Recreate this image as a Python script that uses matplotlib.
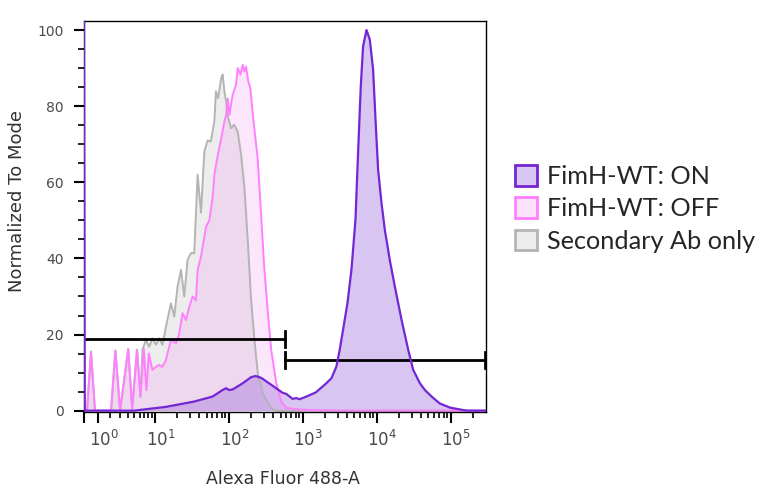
import numpy as np
import matplotlib
matplotlib.use('Agg')
import matplotlib.pyplot as plt
from matplotlib.patches import Patch
from matplotlib.transforms import ScaledTranslation

# histogram values: x = Alexa Fluor 488-A intensity, y = % of mode
on_x = [0, 0.05, 5, 14.0, 34, 60, 82, 92, 101, 113, 154, 200, 230, 275, 374, 532, 598,
        728, 817, 905, 1116, 1500, 1976, 2435, 2847, 3155, 3498, 4013, 4546, 5151,
        5588, 6080, 6529, 7263, 8049, 8926, 9621, 10432, 11600, 12858, 15031, 17571,
        21663, 26616, 31110, 38338, 44833, 55257, 70906, 97800, 165000, 300000]
on_y = [103, 0, 0, 1.0, 2.4, 3.7, 5.4, 5.9, 5.4, 5.6, 7.2, 8.8, 9.1, 8.6, 6.8, 4.7, 4.4,
        3.1, 3.3, 3.0, 3.7, 4.8, 6.8, 8.5, 11.6, 16, 21.2, 28.2, 37, 50.1,
        67.7, 85.2, 95.7, 100, 97.5, 89.6, 76.4, 63.3, 54.5, 47.5, 39.5, 32.6,
        23.8, 16, 10.7, 7.2, 5.4, 3.7, 1.9, 0.8, 0, 0]

off_x = [0, 0.206, 0.484, 0.77, 2.08, 2.51, 3.03, 4.08, 4.68, 5.53, 6.19, 6.92, 7.53,
         8.14, 9.15, 10.2, 11.3, 12.5, 14.0, 16.4, 19.2, 21.3, 23.6, 26.3, 29.1, 32.3,
         35.9, 37.8, 42, 49.2, 54.5, 60.5, 63.7, 70.6, 79, 87.1, 91.8, 96.5, 101.7,
         107, 112.7, 125, 131.7, 143.4, 154, 162.4, 171, 183, 195, 216, 246, 272,
         300, 336, 374, 437, 511, 598, 905, 1690, 3157, 300000]
off_y = [0, 0, 15.3, 0, 0, 15.8, 0, 16.2, 0.5, 16, 3.7, 16.2, 5.4,
         15, 10.7, 11.5, 12, 11.5, 13.3, 18.6, 17.7, 20.3, 25.6, 23.8, 27.3, 30,
         29, 37, 40.5, 48.4, 50, 56.3, 62, 67, 71.6, 76, 77.7, 82, 77.7,
         80.4, 83, 85.6, 90, 88.3, 90.9, 89.1, 90.4, 86.5, 84.8, 76, 66, 52,
         38, 26, 16, 7.3, 2.4, 0.7, 0.3, 0.1, 0, 0]

sec_x = [0, 0.206, 0.484, 0.77, 2.08, 2.51, 3.03, 4.08, 4.68, 5.53, 6.19, 6.62, 7.40,
         8.22, 9.15, 10.2, 11.3, 12.6, 14.0, 16.4, 18.2, 20.2, 22.5, 24.9, 27.6, 30.7,
         34, 37.8, 42, 46.6, 51.7, 57, 63.7, 66.8, 71.4, 79, 82.5, 87.1, 91.8, 96.5,
         107, 118, 131.7, 146.5, 162.4, 180, 200, 222, 246, 288, 336.6, 393.5, 485,
         300000]
sec_y = [0, 0, 15.6, 0, 0, 15.8, 0, 16.2, 0.5, 16, 3.7, 16, 18.6,
         16.8, 19, 17.3, 19, 17.3, 22, 28.2, 24.7, 32.6, 37, 30, 39.6, 41.4,
         41.4, 62, 52, 68.1, 71, 70.7, 76, 83.9, 82.1, 87.4, 88.3, 83.9, 81.2, 77.4,
         74.2, 75.1, 73.3, 67.2, 58.5, 44.9, 29, 18.6, 9.8, 4.6, 2, 0.2, 0,
         0]

# gates (x start, x end, height)
gate1 = (0, 566, 18.9)
gate2 = (566, 291000, 13.4)

major_ticks = [0, 1, 10, 100, 1000, 10000, 100000]
major_labels = ['', r'$10^{0}$', r'$10^{1}$', r'$10^{2}$', r'$10^{3}$', r'$10^{4}$', r'$10^{5}$']
minor_ticks = [m * 10**d for d in range(0, 6) for m in range(2, 10) if m * 10**d < 300000]

labels = ['FimH-WT: ON', 'FimH-WT: OFF', 'Secondary Ab only']
line_cols = ['#7326d3', '#ff80ff', '#b4b4b4']
fill_cols = ['#9a68dc', '#f29cf2', '#c4c4c4']
fill_alpha = [0.38, 0.25, 0.3]
patch_face = ['#d9c6f3', '#fbe2fb', '#ececec']

def fwd(x):
    return np.arcsinh(np.asarray(x) / 2.2) / np.log(10)

def inv(t):
    return 2.2 * np.sinh(np.asarray(t) * np.log(10))

fig = plt.figure(figsize=(7.62, 4.87), dpi=100)
ax = fig.add_axes([84/762, 1 - 412/487, 402/762, 391.5/487])
ax.set_xscale('function', functions=(fwd, inv))

series = [(sec_x, sec_y, 2), (off_x, off_y, 1), (on_x, on_y, 0)]
for xs, ys, i in series:
    ax.fill_between(xs, 0, ys, color=fill_cols[i], alpha=fill_alpha[i], lw=0)
for xs, ys, i in series:
    ax.plot(xs, ys, color=line_cols[i], lw=1.6 if i == 0 else 1.4,
            solid_joinstyle='round', zorder=3 if i == 0 else 2)

for g in (gate1, gate2):
    ax.plot([g[0], g[1]], [g[2], g[2]], color='black', lw=2.0)
    ax.plot([g[1], g[1]], [g[2] - 2.1, g[2] + 2.1], color='black', lw=2.0)
ax.plot([gate2[0], gate2[0]], [gate2[2] - 2.1, gate2[2] + 2.1], color='black', lw=2.0)

ax.set_xlim(0, 300000)
ax.set_ylim(-0.35, 102.5)
ax.set_xticks(major_ticks)
ax.set_xticklabels(major_labels)
ax.set_xticks(minor_ticks, minor=True)
ax.set_yticks(range(0, 101, 20))
ax.set_yticks(range(0, 101, 5), minor=True)

ax.tick_params(axis='x', which='major', length=8, width=1.5, labelsize=12,
               labelcolor='#4a4a4a', pad=5)
ax.tick_params(axis='x', which='minor', length=4.5, width=1.2)
ax.tick_params(axis='y', which='major', length=7.5, width=1.5, labelsize=10,
               labelcolor='#4a4a4a', pad=7)
ax.tick_params(axis='y', which='minor', length=4.5, width=1.2)
for s in ax.spines.values():
    s.set_linewidth(1.0)
# labels sit a little right of their ticks in the original
shift = ScaledTranslation(4/72, 0, fig.dpi_scale_trans)
for lab in ax.get_xticklabels():
    lab.set_transform(lab.get_transform() + shift)

ax.set_xlabel('Alexa Fluor 488-A', fontsize=12.5, color='#333333')
ax.set_ylabel('Normalized To Mode', fontsize=13, color='#333333')
ax.xaxis.set_label_coords(0.495, -0.148)
ax.yaxis.set_label_coords(-0.145, 0.54)

handles = [Patch(facecolor=patch_face[i], edgecolor=line_cols[i], lw=2) for i in range(3)]
fig.legend(handles, labels, loc='upper left', bbox_to_anchor=(515/762, 1 - 165/487),
           frameon=False, prop={'family': 'Lato', 'size': 18.2}, labelcolor='#262626',
           handlelength=0.87, handleheight=0.87, handletextpad=0.4, labelspacing=0.37,
           borderpad=0, borderaxespad=0)

fig.savefig('out.png', dpi=100)
